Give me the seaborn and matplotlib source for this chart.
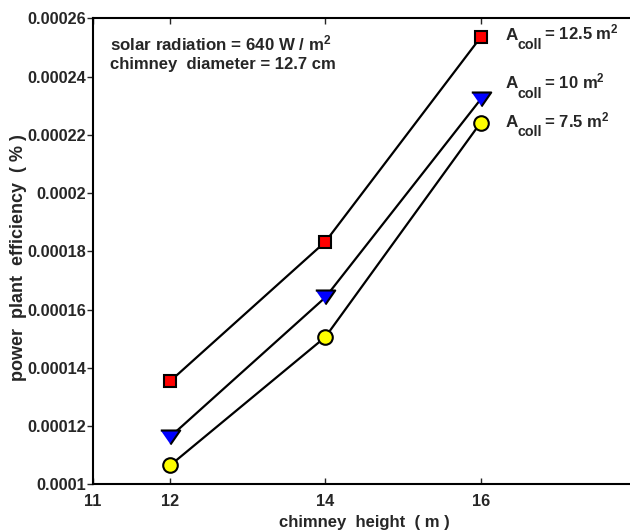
import matplotlib
matplotlib.use("Agg")
import matplotlib.pyplot as plt
import seaborn as sns
import pandas as pd

heights = [12, 14, 16]
eff_125 = [0.0001354, 0.0001833, 0.0002535]
eff_10 = [0.0001163, 0.0001642, 0.0002322]
eff_75 = [0.0001065, 0.0001506, 0.0002242]
area_labels = ["12.5", "10", "7.5"]
yticks = [0.0001, 0.00012, 0.00014, 0.00016, 0.00018, 0.0002, 0.00022, 0.00024, 0.00026]
ytick_labels = ["0.0001", "0.00012", "0.00014", "0.00016", "0.00018", "0.0002", "0.00022", "0.00024", "0.00026"]
xticks = [11, 12, 14, 16]

sns.set_style("white")
plt.rcParams["font.family"] = ["Liberation Sans", "DejaVu Sans"]
plt.rcParams["font.weight"] = "bold"
plt.rcParams["mathtext.fontset"] = "custom"
plt.rcParams["mathtext.rm"] = "Liberation Sans:bold"
plt.rcParams["mathtext.it"] = "Liberation Sans:bold"
plt.rcParams["mathtext.bf"] = "Liberation Sans:bold"

fig = plt.figure(figsize=(6.3, 5.32), dpi=100)
W, H = 630, 532
left, right, top, bottom = 92.5, 636, 18.3, 484.3
ax = fig.add_axes([left / W, 1 - bottom / H, (right - left) / W, (bottom - top) / H])

df = pd.DataFrame({
    "h": heights * 3,
    "eff": eff_125 + eff_10 + eff_75,
    "s": ["a"] * 3 + ["b"] * 3 + ["c"] * 3,
})

tri = [(-1.0, 0.72), (1.0, 0.72), (0.0, -0.72)]
styles = [("s", "#ff0000", 9), (tri, "#0000ff", 14), ("o", "#ffff00", 10.5)]
for key, (m, fc, ms) in zip(["a", "b", "c"], styles):
    sub = df[df["s"] == key]
    sns.lineplot(data=sub, x="h", y="eff", ax=ax, color="black", lw=1.6,
                 marker=m, markersize=ms, markerfacecolor=fc,
                 markeredgecolor="black", markeredgewidth=1.5, clip_on=False)

ax.set_xlim(11, 18)
ax.set_ylim(0.0001, 0.00026)
ax.set_xticks(xticks)
ax.set_xticklabels([str(t) for t in xticks], fontsize=11.7, fontweight="bold")
ax.set_yticks(yticks)
ax.set_yticklabels(ytick_labels, fontsize=11.7, fontweight="bold")
ax.tick_params(axis="x", direction="in", length=4, top=True, bottom=True, pad=7, width=1)
ax.tick_params(axis="y", direction="out", length=4, left=True, pad=0.5, width=1)
for sp in ["left", "bottom", "top"]:
    ax.spines[sp].set_color("black")
    ax.spines[sp].set_linewidth(1.5)
ax.spines["right"].set_visible(False)

ax.set_xlabel("chimney  height  ( m )", fontsize=12, fontweight="bold")
ax.xaxis.set_label_coords(0.5, -(515 - bottom) / (bottom - top))
ax.set_ylabel("power  plant  efficiency  ( % )", fontsize=13, fontweight="bold")
ax.yaxis.set_label_coords(-(left - 27) / (right - left), 1 - (258 - top) / (bottom - top))

ax.text(110 / W, 1 - 43 / H, r"solar radiation = 640 W / m$^{2}$", transform=fig.transFigure,
        fontsize=12.2, fontweight="bold", va="center", ha="left")
ax.text(110 / W, 1 - 64 / H, "chimney  diameter = 12.7 cm", transform=fig.transFigure,
        fontsize=12, fontweight="bold", va="center", ha="left")

label_base = [39.5, 88.5, 127]
for lab, yb in zip(area_labels, label_base):
    tA = fig.text(506 / W, 1 - yb / H, "A", fontsize=12.3, fontweight="bold",
                  va="baseline", ha="left")
    tc = ax.annotate("coll", xy=(1, 0), xycoords=tA, xytext=(-1, -6.5),
                     textcoords="offset pixels", fontsize=10.3, fontweight="bold",
                     va="baseline", ha="left")
    ax.annotate(" = " + lab + r" m$^{2}$", xy=(1, 0), xycoords=tc, xytext=(-2, 12.5),
                textcoords="offset pixels", fontsize=12.0, fontweight="bold",
                va="baseline", ha="left")

fig.savefig("out.png", dpi=100)
